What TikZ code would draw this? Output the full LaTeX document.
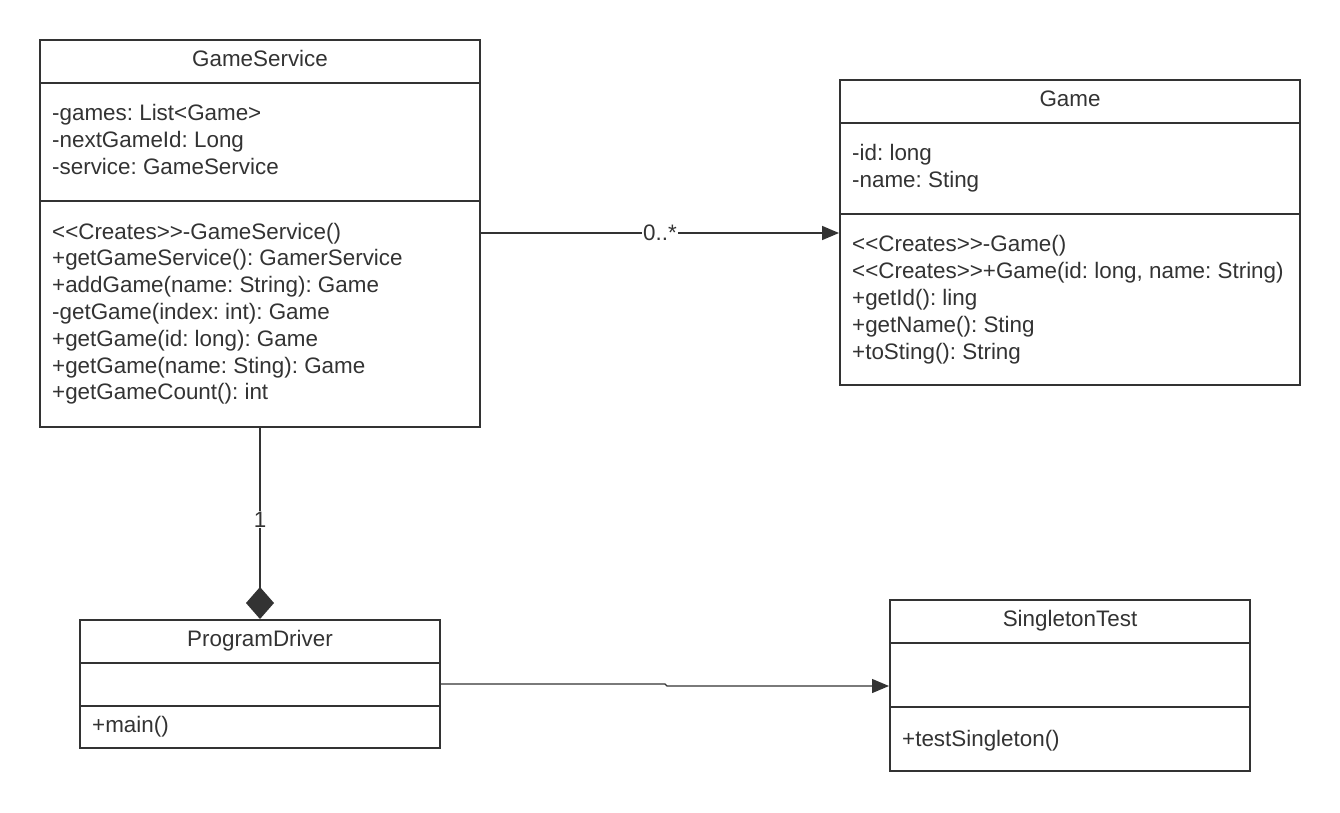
\documentclass[tikz,border=0pt]{standalone}
\usepackage{fontspec}
\newfontfamily\umlfont{Liberation Sans}
\usetikzlibrary{arrows.meta}
\definecolor{ink}{HTML}{333333}
\begin{document}
\begin{tikzpicture}[x=1pt,y=-1pt,
  box/.style={draw=ink,line width=2pt,inner sep=0pt,rectangle},
  sep/.style={draw=ink,line width=2pt},
  txt/.style={font=\umlfont\frenchspacing\fontsize{22.4}{27}\selectfont,text=ink,inner sep=0pt,anchor=base west},
  ttl/.style={font=\umlfont\frenchspacing\fontsize{22.4}{27}\selectfont,text=ink,inner sep=0pt,anchor=base},
  conn/.style={draw=ink,line width=1.6pt},
  lbl/.style={font=\umlfont\frenchspacing\fontsize{22.4}{27}\selectfont,text=ink,fill=white,inner sep=1pt}]
\useasboundingbox (0,0) rectangle (1340,812);
\fill[white] (0,0) rectangle (1340,812);

% GameService
\node[box,minimum width=440pt,minimum height=387pt] (gs) at (260,233.5) {};
\draw[sep] (gs.west |- 0,83) -- (gs.east |- 0,83);
\draw[sep] (gs.west |- 0,201) -- (gs.east |- 0,201);
\node[ttl] (gst) at (260,66) {GameService};
\foreach \t [count=\i] in {-games: List<Game>,-nextGameId: Long,-service: GameService}
  \node[txt] (gsa\i) at (52,{120+27*(\i-1)}) {\t};
\foreach \t [count=\i] in {<<Creates>>-GameService(),+getGameService(): GamerService,+addGame(name: String): Game,-getGame(index: int): Game,+getGame(id: long): Game,+getGame(name: Sting): Game,+getGameCount(): int}
  \node[txt] (gsm\i) at (52,{239+26.8*(\i-1)}) {\t};

% Game
\node[box,minimum width=460pt,minimum height=305pt] (gm) at (1070,232.5) {};
\draw[sep] (gm.west |- 0,123) -- (gm.east |- 0,123);
\draw[sep] (gm.west |- 0,214) -- (gm.east |- 0,214);
\node[ttl] (gmt) at (1070,106) {Game};
\foreach \t [count=\i] in {-id: long,-name: Sting}
  \node[txt] (gma\i) at (852,{160+27*(\i-1)}) {\t};
\foreach \t [count=\i] in {<<Creates>>-Game(),{<<Creates>>+Game(id: long, name: String)},+getId(): ling,+getName(): Sting,+toSting(): String}
  \node[txt] (gmm\i) at (852,{251+27*(\i-1)}) {\t};

% ProgramDriver
\node[box,minimum width=360pt,minimum height=128pt] (pd) at (260,684) {};
\draw[sep] (pd.west |- 0,663) -- (pd.east |- 0,663);
\draw[sep] (pd.west |- 0,706) -- (pd.east |- 0,706);
\node[ttl] (pdt) at (260,646) {ProgramDriver};
\node[txt] (pdm) at (92,732) {+main()};

% SingletonTest
\node[box,minimum width=360pt,minimum height=171pt] (st) at (1070,685.5) {};
\draw[sep] (st.west |- 0,643) -- (st.east |- 0,643);
\draw[sep] (st.west |- 0,707) -- (st.east |- 0,707);
\node[ttl] (stt) at (1070,626) {SingletonTest};
\node[txt] (stm) at (902,746) {+testSingleton()};

% connectors
\draw[conn,-{Triangle[length=17pt,width=14pt]}] (gs.east |- 0,233) -- node[lbl] (l0) {0..*} (gm.west |- 0,233);
\draw[conn,-{Diamond[length=32pt,width=28pt]}] (gs.south) -- node[lbl,pos=0.48] (l1) {1} (pd.north);
\coordinate (j1) at (665,684);
\coordinate (j2) at (667,686);
\draw[conn,line width=1.3pt,-{Triangle[length=17pt,width=14pt]}] (pd.east |- 0,684) -- (j1) -- (j2) -- (st.west |- 0,686);
\end{tikzpicture}
\end{document}
